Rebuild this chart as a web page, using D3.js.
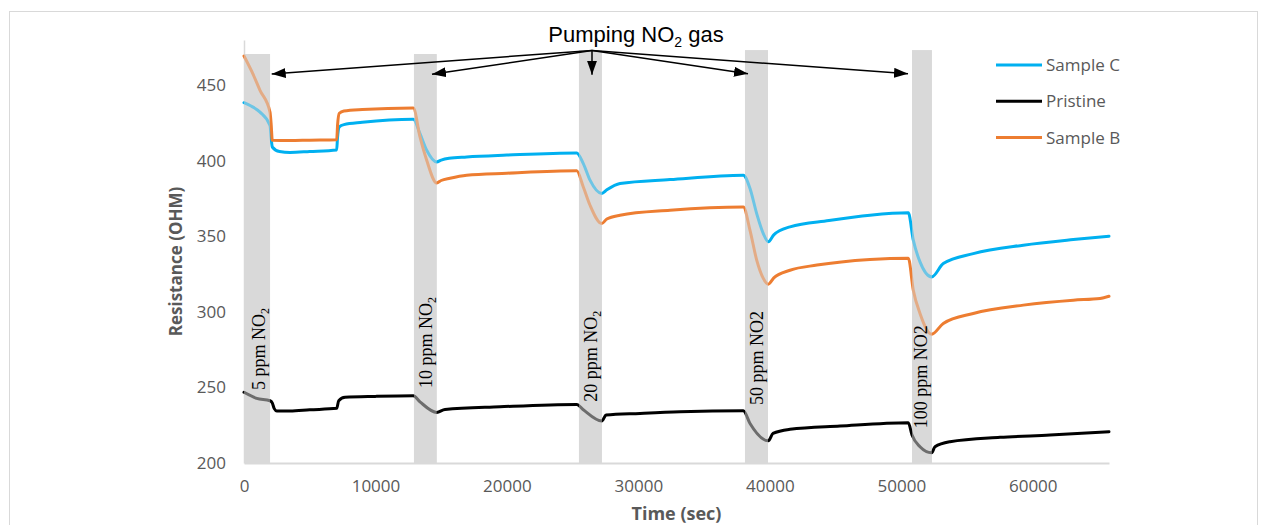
<!DOCTYPE html>
<html>
<head>
<meta charset="utf-8">
<script src="https://cdn.jsdelivr.net/npm/d3@7"></script>
<style>
  html, body { margin: 0; padding: 0; background: #fff; }
  svg { display: block; }
</style>
</head>
<body>
<svg id="chart" width="1268" height="525"></svg>
<script>
// ---------------- DATA ----------------
const seriesNames = ["Sample C", "Pristine", "Sample B"];

// [time (sec), resistance (OHM)]
const sampleC = [
  [0, 438.5], [500, 436.5], [1217, 432.3], [1978, 423.5], [2080, 414], [2150, 409.2],
  [2700, 406.2], [3500, 405.6], [5000, 406.2], [7052, 407.2], [7110, 415], [7250, 422.5],
  [7600, 424], [9000, 425.5], [12879, 427.5], [13388, 418], [13898, 407], [14659, 399.3],
  [15000, 400.5], [15600, 401.7], [16941, 402.6], [20000, 403.8], [25308, 405.2],
  [25811, 398.2], [26321, 387.2], [27211, 378.4], [27600, 380.8], [28603, 385],
  [32406, 387.6], [37982, 390.5], [38492, 381.7], [39001, 365.1], [39503, 351.9],
  [39884, 346.4], [40300, 351], [41534, 356.3], [44500, 360.5], [47619, 364],
  [50532, 365.6], [50913, 347.5], [51423, 333.1], [52312, 323.2], [53194, 332],
  [55477, 338.6], [59281, 344.2], [63083, 347.9], [65800, 350.1]
];

const pristine = [
  [0, 246.8], [966, 242.8], [1978, 241.2], [2150, 239.8], [2300, 236], [2500, 234.4],
  [3499, 234.4], [5000, 235.2], [7052, 236.2], [7204, 241.2], [7683, 243.5],
  [10000, 244.1], [12879, 244.5], [13388, 240.5], [14659, 233.5], [15291, 235.4],
  [19474, 237.2], [25308, 238.8], [25788, 235.4], [27211, 227.8], [27538, 231.7],
  [30124, 232.8], [33167, 233.9], [37982, 234.6], [38492, 226.2], [39884, 214.7],
  [40241, 219.6], [41534, 222.3], [45337, 224.5], [50532, 226.7], [50814, 218.5],
  [51423, 210.8], [52312, 206.8], [52563, 210.8], [53704, 214.1], [57509, 217],
  [61312, 218.5], [65800, 220.7]
];

const sampleB = [
  [0, 469.4], [600, 459], [1217, 446.7], [1978, 432.3], [2060, 425], [2153, 413.6],
  [3500, 413.4], [5000, 413.7], [7052, 414], [7120, 424], [7250, 431.5], [7600, 433],
  [9000, 434], [12879, 435], [13388, 415.8], [13898, 400.4], [14659, 385.4],
  [15000, 387], [15670, 388.5], [16941, 390.5], [20000, 391.8], [25308, 393.4],
  [25811, 382.7], [26321, 370.6], [27211, 358.5], [27600, 361.5], [28603, 364],
  [32406, 367.3], [37982, 369.5], [38492, 354], [39001, 334.3], [39503, 322.2],
  [39884, 318.4], [40300, 322.5], [41534, 327.6], [43587, 331], [47619, 334.7],
  [50532, 335.6], [50913, 314.4], [51423, 299], [52312, 285.3], [53194, 292.4],
  [55477, 299], [59281, 304.5], [63083, 307.8], [65116, 308.9], [65800, 310.4]
];

// NO2 exposure periods
const bandStart = [0, 12930, 25480, 38110, 50815];
const bandEnd   = [1980, 14660, 27230, 39860, 52330];
const bandTop   = [470.7, 470.7, 473.3, 473.3, 473.3];
const bandLabelMain = ["5 ppm NO", "10 ppm NO", "20 ppm NO", "50 ppm NO2", "100 ppm NO2"];
const bandLabelSub  = ["2", "2", "2", "", ""];
const bandLabelBase = [248.3, 249.6, 240.5, 238.4, 223];

// annotation arrows
const arrowOrigin = [26472, 473.1];
const arrowTipTime = [2107, 14301, 26472, 38339, 50510];
const arrowTipValue = [457.5, 457.3, 457, 457.6, 457.6];

const xTicks = [0, 10000, 20000, 30000, 40000, 50000, 60000];
const yTicks = [200, 250, 300, 350, 400, 450];
const xDomain = [0, 65800];
const yDomain = [200, 480];

// ---------------- LAYOUT ----------------
const colors = { "Sample C": "#00b0f0", "Pristine": "#000000", "Sample B": "#ed7d31" };
const seriesData = { "Sample C": sampleC, "Pristine": pristine, "Sample B": sampleB };
const plot = { left: 244, right: 1109, top: 40, bottom: 463 };
const axisColor = "#d9d9d9";
const textColor = "#595959";
const uiFont = "'Open Sans', 'Noto Sans', sans-serif";

const svg = d3.select("#chart");

// outer chart border
svg.append("rect")
  .attr("x", 9.5).attr("y", 11.5).attr("width", 1248).attr("height", 530)
  .attr("fill", "none").attr("stroke", axisColor).attr("stroke-width", 1);

const x = d3.scaleLinear().domain(xDomain).range([plot.left, plot.right]);
const y = d3.scaleLinear().domain(yDomain).range([plot.bottom, plot.top]);

const bands = bandStart.map((s, i) => ({ s, e: bandEnd[i], top: bandTop[i],
  main: bandLabelMain[i], sub: bandLabelSub[i], base: bandLabelBase[i] }));

// bands (underneath)
svg.append("g").selectAll("rect").data(bands).join("rect")
  .attr("x", d => x(d.s)).attr("width", d => x(d.e) - x(d.s))
  .attr("y", d => y(d.top)).attr("height", d => y(200) - y(d.top))
  .attr("fill", "#d9d9d9");

// axes
const xAxis = d3.axisBottom(x).tickValues(xTicks).tickSize(0).tickPadding(17).tickFormat(d3.format("d"));
const gx = svg.append("g").attr("transform", `translate(0,${plot.bottom})`).call(xAxis);
gx.select(".domain").attr("stroke", axisColor).attr("stroke-width", 2);
gx.selectAll("text").attr("font-family", uiFont).attr("font-size", 17).attr("fill", textColor);

const yAxis = d3.axisLeft(y).tickValues(yTicks).tickSize(0).tickPadding(18);
const gy = svg.append("g").attr("transform", `translate(${plot.left},0)`).call(yAxis);
gy.select(".domain").attr("stroke", axisColor).attr("stroke-width", 1.5);
gy.selectAll("text").attr("font-family", uiFont).attr("font-size", 17).attr("fill", textColor);

// lines
const line = d3.line().x(d => x(d[0])).y(d => y(d[1])).curve(d3.curveMonotoneX);
const order = ["Sample C", "Sample B", "Pristine"];
svg.append("g").selectAll("path").data(order).join("path")
  .attr("d", n => line(seriesData[n]))
  .attr("fill", "none").attr("stroke", n => colors[n])
  .attr("stroke-width", 3).attr("stroke-linejoin", "round").attr("stroke-linecap", "round");

// translucent band overlay (fades the lines within exposure periods)
svg.append("g").selectAll("rect").data(bands).join("rect")
  .attr("x", d => x(d.s)).attr("width", d => x(d.e) - x(d.s))
  .attr("y", d => y(d.top)).attr("height", d => y(200) - y(d.top))
  .attr("fill", "#d9d9d9").attr("opacity", 0.5);

// band labels (rotated, serif)
const lab = svg.append("g").selectAll("text").data(bands).join("text")
  .attr("transform", d => `translate(${x(d.e) - 5},${y(d.base)}) rotate(-90)`)
  .attr("font-family", "'Liberation Serif', 'DejaVu Serif', serif")
  .attr("font-size", 18).attr("fill", "#000");
lab.append("tspan").text(d => d.main);
lab.filter(d => d.sub).append("tspan").attr("font-size", 12).attr("dy", 4).text(d => d.sub);

// axis titles
svg.append("text").attr("x", (plot.left + plot.right) / 2 + 0).attr("y", 520)
  .attr("text-anchor", "middle").attr("font-family", uiFont).attr("font-weight", "bold")
  .attr("font-size", 18).attr("fill", textColor).text("Time (sec)");
svg.append("text").attr("transform", `translate(182,${(plot.top + plot.bottom) / 2 + 10}) rotate(-90)`)
  .attr("text-anchor", "middle").attr("font-family", uiFont).attr("font-weight", "bold")
  .attr("font-size", 17).attr("fill", textColor).text("Resistance (OHM)");

// legend
const leg = svg.append("g").selectAll("g").data(seriesNames).join("g")
  .attr("transform", (d, i) => `translate(996,${65 + i * 36.3})`);
leg.append("line").attr("x1", 0).attr("x2", 46).attr("y1", 0).attr("y2", 0)
  .attr("stroke", d => colors[d]).attr("stroke-width", 3);
leg.append("text").attr("x", 50).attr("y", 6).attr("font-family", uiFont)
  .attr("font-size", 17).attr("fill", textColor).text(d => d);

// annotation
const defs = svg.append("defs");
defs.append("marker").attr("id", "arrowhead").attr("markerUnits", "userSpaceOnUse")
  .attr("viewBox", "0 0 14 10").attr("refX", 14).attr("refY", 5)
  .attr("markerWidth", 14).attr("markerHeight", 10).attr("orient", "auto")
  .append("path").attr("d", "M0,0 L14,5 L0,10 Z").attr("fill", "#000");

svg.append("g").selectAll("line").data(arrowTipTime).join("line")
  .attr("x1", x(arrowOrigin[0])).attr("y1", y(arrowOrigin[1]))
  .attr("x2", d => x(d)).attr("y2", (d, i) => y(arrowTipValue[i]))
  .attr("stroke", "#000").attr("stroke-width", 1.5).attr("marker-end", "url(#arrowhead)");

const title = svg.append("text").attr("x", 636).attr("y", 42).attr("text-anchor", "middle")
  .attr("font-family", "'Liberation Sans', Arial, sans-serif").attr("font-size", 22).attr("fill", "#000");
title.append("tspan").text("Pumping NO");
title.append("tspan").attr("font-size", 14).attr("dy", 5).text("2");
title.append("tspan").attr("dy", -5).text(" gas");
</script>
</body>
</html>
